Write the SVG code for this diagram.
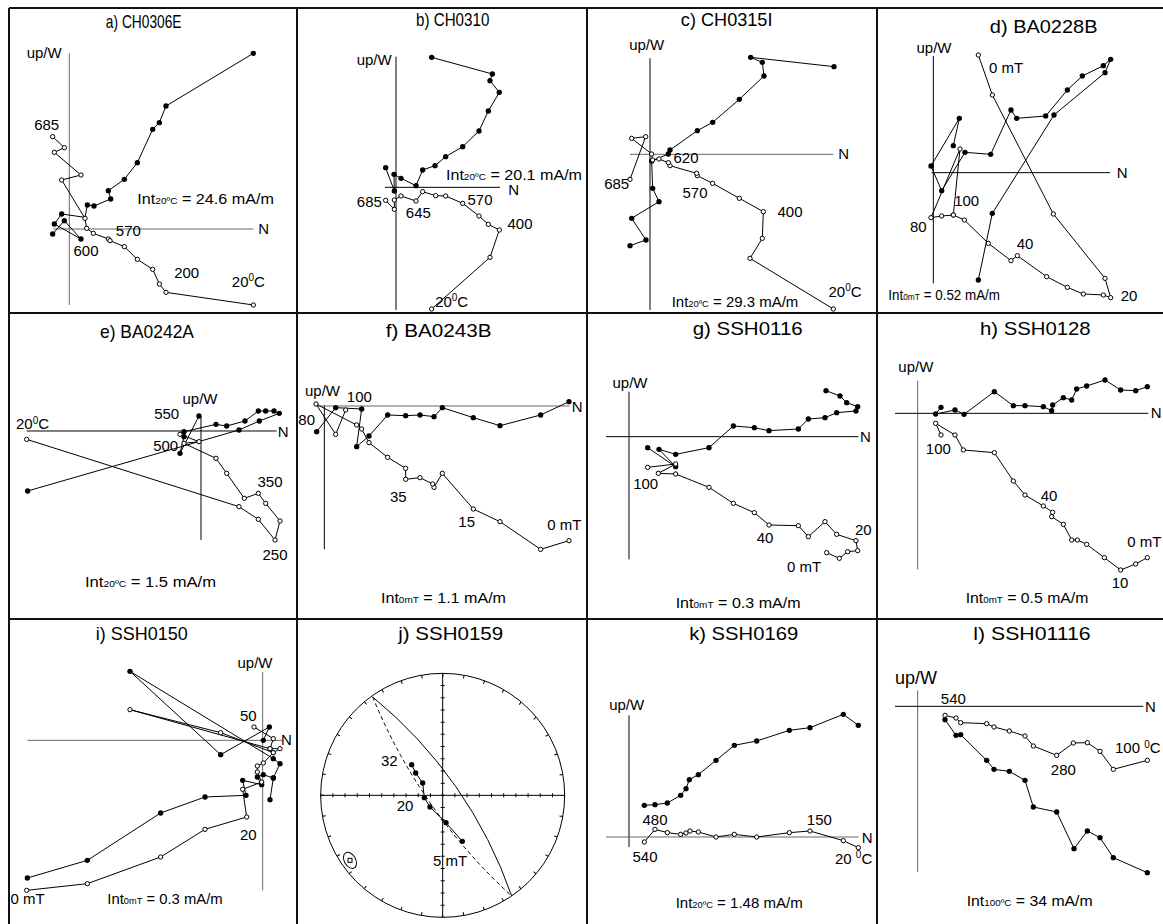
<svg xmlns="http://www.w3.org/2000/svg" width="1163" height="924" viewBox="0 0 1163 924">
<style>
text{font-family:"Liberation Sans",Arial,sans-serif;fill:#000}
.t{font-size:54px;text-anchor:middle}
.l{font-size:45px}
.m{text-anchor:middle}
.s{font-size:28px}
.sup{font-size:30px}
.ax{stroke:#000;stroke-width:3;fill:none}
.gx{stroke:#666;stroke-width:3;fill:none}
.ln{fill:none;stroke:#000;stroke-width:3}
.pf{fill:none;stroke:#000;stroke-width:3;marker-start:url(#mf);marker-mid:url(#mf);marker-end:url(#mf)}
.po{fill:none;stroke:#000;stroke-width:3;marker-start:url(#mo);marker-mid:url(#mo);marker-end:url(#mo)}
.frame{stroke:#111;stroke-width:2;fill:none}
</style>
<defs>
<marker id="mf" viewBox="-10 -10 20 20" markerWidth="20" markerHeight="20" markerUnits="userSpaceOnUse"><circle r="8" fill="#000"/></marker>
<marker id="mo" viewBox="-10 -10 20 20" markerWidth="20" markerHeight="20" markerUnits="userSpaceOnUse"><circle r="6.5" fill="#fff" stroke="#000" stroke-width="3"/></marker>
</defs>
<rect width="1163" height="924" fill="#fff"/>
<path class="frame" d="M9,8H1163M9,313H1163M9,619H1163M9,8V924M297,8V924M587,8V924M877,8V924"/>

<g id="panel-a" transform="scale(0.333333)">
<text class="t" x="431" y="84" textLength="227" lengthAdjust="spacingAndGlyphs">a) CH0306E</text>
<path class="gx" d="M208 160V915M160 687H760"/>
<text class="l" x="80" y="175">up/W</text>
<text class="l" x="775" y="702">N</text>
<polyline class="pf" points="760,160 498,318 478,368 458,388 412,488 373,538 325,572 332,597 282,618 262,615"/>
<path class="ln" d="M262,615L255,652L185,642"/>
<polyline class="pf" points="185,642 163,672 243,717 193,662 158,702"/>
<polyline class="po" points="158,410 193,443 163,457 243,525 185,540 255,655 260,685 280,700 325,717 330,722 373,740 412,778 458,808 478,852 498,877 760,915"/>
<text class="l m" x="140" y="390">685</text>
<text class="l m" x="258" y="767">600</text>
<text class="l m" x="385" y="707">570</text>
<text class="l m" x="560" y="833">200</text>
<text class="l m" x="745" y="860">20<tspan class="sup" dy="-16">0</tspan><tspan dy="16">C</tspan></text>
<text class="l" x="412" y="612" textLength="410" lengthAdjust="spacingAndGlyphs">Int<tspan class="s">20ºC</tspan> = 24.6 mA/m</text>
</g>

<g id="panel-b" transform="translate(290,0) scale(0.333333)">
<text class="t" x="488" y="79" textLength="220" lengthAdjust="spacingAndGlyphs">b) CH0310</text>
<path class="ax" d="M318 170V930M285 562H630"/>
<text class="l" x="305" y="195" text-anchor="end">up/W</text>
<text class="l" x="655" y="585">N</text>
<polyline class="pf" points="425,172 607,222 600,242 628,277 595,333 567,393 518,440 467,470 435,497 398,510 378,557 333,535 312,523 313,573 287,503"/>
<polyline class="po" points="425,927 600,772 628,690 595,673 567,648 518,610 467,588 437,587 398,575 378,603 333,588 313,600 313,628 287,601"/>
<text class="l m" x="238" y="620">685</text>
<text class="l m" x="385" y="655">645</text>
<text class="l m" x="570" y="615">570</text>
<text class="l m" x="690" y="687">400</text>
<text class="l m" x="485" y="920">20<tspan class="sup" dy="-16">0</tspan><tspan dy="16">C</tspan></text>
<text class="l" x="468" y="540" textLength="408" lengthAdjust="spacingAndGlyphs">Int<tspan class="s">20ºC</tspan> = 20.1 mA/m</text>
</g>

<g id="panel-c" transform="translate(580,0) scale(0.333333)">
<text class="t" x="440" y="79" textLength="275" lengthAdjust="spacingAndGlyphs">c) CH0315I</text>
<path class="ax" d="M210 175V930"/>
<path class="gx" d="M150 463H760"/>
<text class="l m" x="200" y="150">up/W</text>
<text class="l" x="775" y="478">N</text>
<polyline class="pf" points="762,200 512,172 547,187 552,228 478,298 398,367 352,392 270,450 265,462 215,483 218,565 237,605 155,655 198,720 150,737"/>
<polyline class="po" points="760,927 510,775 547,715 550,635 478,595 398,550 352,527 350,520 270,497 265,488 237,477 218,480 215,462 155,415 197,410 150,538"/>
<text class="l m" x="318" y="490">620</text>
<text class="l m" x="110" y="568">685</text>
<text class="l m" x="345" y="595">570</text>
<text class="l m" x="630" y="650">400</text>
<text class="l m" x="795" y="890">20<tspan class="sup" dy="-16">0</tspan><tspan dy="16">C</tspan></text>
<text class="l" x="275" y="922" textLength="380" lengthAdjust="spacingAndGlyphs">Int<tspan class="s">20ºC</tspan> = 29.3 mA/m</text>
</g>

<g id="panel-d" transform="translate(870,0) scale(0.333333)">
<text class="t" x="521" y="99" textLength="323" lengthAdjust="spacingAndGlyphs">d) BA0228B</text>
<path class="ax" d="M190 168V850M185 518H720"/>
<text class="l m" x="192" y="158">up/W</text>
<text class="l" x="740" y="535">N</text>
<polyline class="pf" points="325,840 367,640 552,345 705,218 722,178 700,197 637,228 592,270 527,348 440,355 423,330 362,463 285,457 215,572 183,498 268,355 250,437"/>
<polyline class="po" points="325,165 367,285 550,642 705,835 722,893 700,885 640,882 592,862 530,830 442,767 423,782 355,730 283,660 250,645 215,648 183,653 270,447 250,645"/>
<text class="l" x="357" y="218">0 mT</text>
<text class="l m" x="290" y="618">100</text>
<text class="l m" x="145" y="695">80</text>
<text class="l m" x="465" y="748">40</text>
<text class="l" x="752" y="903">20</text>
<text class="l" x="55" y="900" textLength="335" lengthAdjust="spacingAndGlyphs">Int<tspan class="s">0mT</tspan> = 0.52 mA/m</text>
</g>

<g id="panel-e" transform="translate(0,310) scale(0.333333)">
<text class="t" x="441" y="84" textLength="282" lengthAdjust="spacingAndGlyphs">e) BA0242A</text>
<path class="ax" d="M603 320V690M80 363H830"/>
<text class="l m" x="600" y="283">up/W</text>
<text class="l" x="833" y="380">N</text>
<polyline class="pf" points="83,543 717,360 778,333 838,310 822,303 797,303 775,303 735,333 680,348 648,343 552,365 552,380 540,430 597,318"/>
<polyline class="po" points="80,388 717,590 775,628 825,690 840,633 797,580 775,550 733,565 680,490 648,445 552,400 597,395 540,373"/>
<text class="l m" x="500" y="327">550</text>
<text class="l m" x="497" y="423">500</text>
<text class="l m" x="810" y="530">350</text>
<text class="l m" x="825" y="750">250</text>
<text class="l" x="48" y="357">20<tspan class="sup" dy="-16">0</tspan><tspan dy="16">C</tspan></text>
<text class="l" x="255" y="832" textLength="393" lengthAdjust="spacingAndGlyphs">Int<tspan class="s">20ºC</tspan> = 1.5 mA/m</text>
</g>

<g id="panel-f" transform="translate(290,310) scale(0.333333)">
<text class="t" x="446" y="81" textLength="317" lengthAdjust="spacingAndGlyphs">f) BA0243B</text>
<path class="ax" d="M103 285V718"/>
<path class="gx" d="M80 288H838"/>
<text class="l" x="45" y="257">up/W</text>
<text class="l" x="845" y="305">N</text>
<polyline class="pf" points="837,275 752,315 630,347 550,323 457,293 432,320 390,315 347,317 293,315 237,378 200,410 215,297 137,293 80,365"/>
<polyline class="po" points="837,692 752,718 630,635 550,597 457,490 432,532 428,522 390,503 347,508 347,475 293,442 237,398 215,357 200,345 78,282 137,373 167,300"/>
<text class="l m" x="208" y="277">100</text>
<text class="l m" x="50" y="345">80</text>
<text class="l m" x="325" y="575">35</text>
<text class="l m" x="530" y="652">15</text>
<text class="l" x="772" y="660">0 mT</text>
<text class="l" x="273" y="878" textLength="375" lengthAdjust="spacingAndGlyphs">Int<tspan class="s">0mT</tspan> = 1.1 mA/m</text>
</g>

<g id="panel-g" transform="translate(580,310) scale(0.333333)">
<text class="t" x="503" y="76" textLength="330" lengthAdjust="spacingAndGlyphs">g) SSH0116</text>
<path class="ax" d="M147 245V748M78 380H835"/>
<text class="l m" x="150" y="233">up/W</text>
<text class="l" x="840" y="395">N</text>
<polyline class="pf" points="738,242 780,258 800,278 833,290 828,303 770,308 735,323 685,327 655,357 567,362 523,353 460,348 387,413 287,433 237,418 287,470 203,413"/>
<polyline class="po" points="740,728 778,745 803,725 833,722 828,692 770,673 735,635 685,680 655,647 567,645 523,608 460,580 387,532 287,492 235,490 287,462 203,472"/>
<text class="l m" x="197" y="538">100</text>
<text class="l m" x="555" y="699">40</text>
<text class="l" x="825" y="675">20</text>
<text class="l m" x="672" y="785">0 mT</text>
<text class="l" x="287" y="893" textLength="375" lengthAdjust="spacingAndGlyphs">Int<tspan class="s">0mT</tspan> = 0.3 mA/m</text>
</g>

<g id="panel-h" transform="translate(870,310) scale(0.333333)">
<text class="t" x="496" y="74" textLength="332" lengthAdjust="spacingAndGlyphs">h) SSH0128</text>
<path class="gx" d="M143 212V778"/>
<path class="ax" d="M75 310H835"/>
<text class="l" x="85" y="185">up/W</text>
<text class="l" x="842" y="325">N</text>
<polyline class="pf" points="213,292 197,312 255,300 282,313 373,245 430,287 465,287 520,290 545,302 548,285 580,263 605,270 620,237 650,228 705,210 752,240 797,242 832,230"/>
<polyline class="po" points="213,375 197,340 255,375 280,420 373,428 430,513 465,555 520,588 548,607 545,620 580,643 605,690 622,690 650,703 703,743 752,780 797,762 832,743"/>
<text class="l m" x="205" y="433">100</text>
<text class="l m" x="537" y="572">40</text>
<text class="l" x="772" y="710">0 mT</text>
<text class="l m" x="750" y="835">10</text>
<text class="l" x="287" y="878" textLength="368" lengthAdjust="spacingAndGlyphs">Int<tspan class="s">0mT</tspan> = 0.5 mA/m</text>
</g>

<g id="panel-i" transform="translate(0,612) scale(0.333333)">
<text class="t" x="425" y="84" textLength="276" lengthAdjust="spacingAndGlyphs">i) SSH0150</text>
<path class="gx" d="M788 180V835M82 385H848"/>
<text class="l m" x="765" y="167">up/W</text>
<text class="l" x="843" y="400">N</text>
<polyline class="pf" points="82,798 262,745 482,603 615,555 738,550 728,505 785,518 772,495 790,488 820,498 810,563"/>
<polyline class="pf" points="820,498 840,455 820,440 390,178 662,428 808,345 790,385"/>
<polyline class="po" points="80,835 262,815 482,735 615,652 740,615 728,532 785,510 772,480 772,462 790,453 820,422 840,410 810,410 820,380 762,345"/>
<polyline class="po" points="810,410 390,293 662,362 820,422"/>
<text class="l m" x="745" y="327">50</text>
<text class="l m" x="745" y="683">20</text>
<text class="l m" x="83" y="877">0 mT</text>
<text class="l" x="322" y="877" textLength="346" lengthAdjust="spacingAndGlyphs">Int<tspan class="s">0mT</tspan> = 0.3 mA/m</text>
</g>

<g id="panel-j" transform="translate(290,612) scale(0.333333)">
<text class="t" x="482" y="84" textLength="315" lengthAdjust="spacingAndGlyphs">j) SSH0159</text>
<circle cx="458" cy="550" r="366" class="ax"/>
<circle cx="458" cy="550" r="361" fill="none" stroke="#000" stroke-width="10" stroke-dasharray="3 60.006" stroke-dashoffset="1.5"/>
<path class="ax" d="M92 550H825M458 185V915"/>
<path d="M458 550H825" fill="none" stroke="#000" stroke-width="12" stroke-dasharray="3 33.6" stroke-dashoffset="1.5"/>
<path d="M458 550H92" fill="none" stroke="#000" stroke-width="12" stroke-dasharray="3 33.6" stroke-dashoffset="1.5"/>
<path d="M458 550V185" fill="none" stroke="#000" stroke-width="12" stroke-dasharray="3 33.6" stroke-dashoffset="1.5"/>
<path d="M458 550V915" fill="none" stroke="#000" stroke-width="12" stroke-dasharray="3 33.6" stroke-dashoffset="1.5"/>
<path class="ln" d="M248,255A1335,1335 0 0 1 665,852"/>
<path class="ln" d="M248,255A1658,1658 0 0 0 665,852" stroke-dasharray="12 9"/>
<polyline class="pf" points="365,458 377,483 398,513 403,557 420,585 468,632 517,688"/>
<ellipse class="ax" cx="180" cy="745" rx="17" ry="26" transform="rotate(-30 180 745)"/>
<rect class="ax" x="174" y="739" width="12" height="12"/>
<text class="l m" x="298" y="463">32</text>
<text class="l m" x="345" y="597">20</text>
<text class="l m" x="480" y="762">5 mT</text>
</g>

<g id="panel-k" transform="translate(580,612) scale(0.333333)">
<text class="t" x="491" y="84" textLength="327" lengthAdjust="spacingAndGlyphs">k) SSH0169</text>
<path class="ax" d="M147 310V705"/>
<path class="gx" d="M78 675H835"/>
<text class="l m" x="140" y="295">up/W</text>
<text class="l" x="845" y="693">N</text>
<polyline class="pf" points="193,580 225,578 262,573 302,550 318,530 328,503 355,488 408,445 463,400 530,387 628,355 690,347 790,307 835,340"/>
<polyline class="po" points="193,690 225,652 262,662 302,667 318,663 330,657 355,660 408,675 463,667 530,675 628,662 690,657 790,686 835,707"/>
<text class="l m" x="225" y="640">480</text>
<text class="l m" x="718" y="640">150</text>
<text class="l m" x="195" y="750">540</text>
<text class="l" x="765" y="755">20 <tspan class="sup" dy="-16">0</tspan><tspan dy="16">C</tspan></text>
<text class="l" x="287" y="888" textLength="381" lengthAdjust="spacingAndGlyphs">Int<tspan class="s">20ºC</tspan> = 1.48 mA/m</text>
</g>

<g id="panel-l" transform="translate(870,612) scale(0.333333)">
<text class="t" x="486" y="84" textLength="352" lengthAdjust="spacingAndGlyphs">l) SSH01116</text>
<path class="gx" d="M143 235V780"/>
<path class="ax" d="M75 283H820"/>
<text x="75" y="215" font-size="54">up/W</text>
<text class="l" x="825" y="300">N</text>
<polyline class="pf" points="225,323 258,370 272,368 350,445 372,472 418,478 465,505 490,585 560,600 612,710 652,657 690,677 730,737 832,782"/>
<polyline class="po" points="225,310 258,318 272,332 350,335 372,345 418,357 465,372 490,402 560,430 610,393 652,392 690,418 730,472 832,445"/>
<text class="l m" x="250" y="277">540</text>
<text class="l m" x="580" y="490">280</text>
<text class="l" x="735" y="423">100 <tspan class="sup" dy="-16">0</tspan><tspan dy="16">C</tspan></text>
<text class="l" x="290" y="882" textLength="378" lengthAdjust="spacingAndGlyphs">Int<tspan class="s">100ºC</tspan> = 34 mA/m</text>
</g>
</svg>
